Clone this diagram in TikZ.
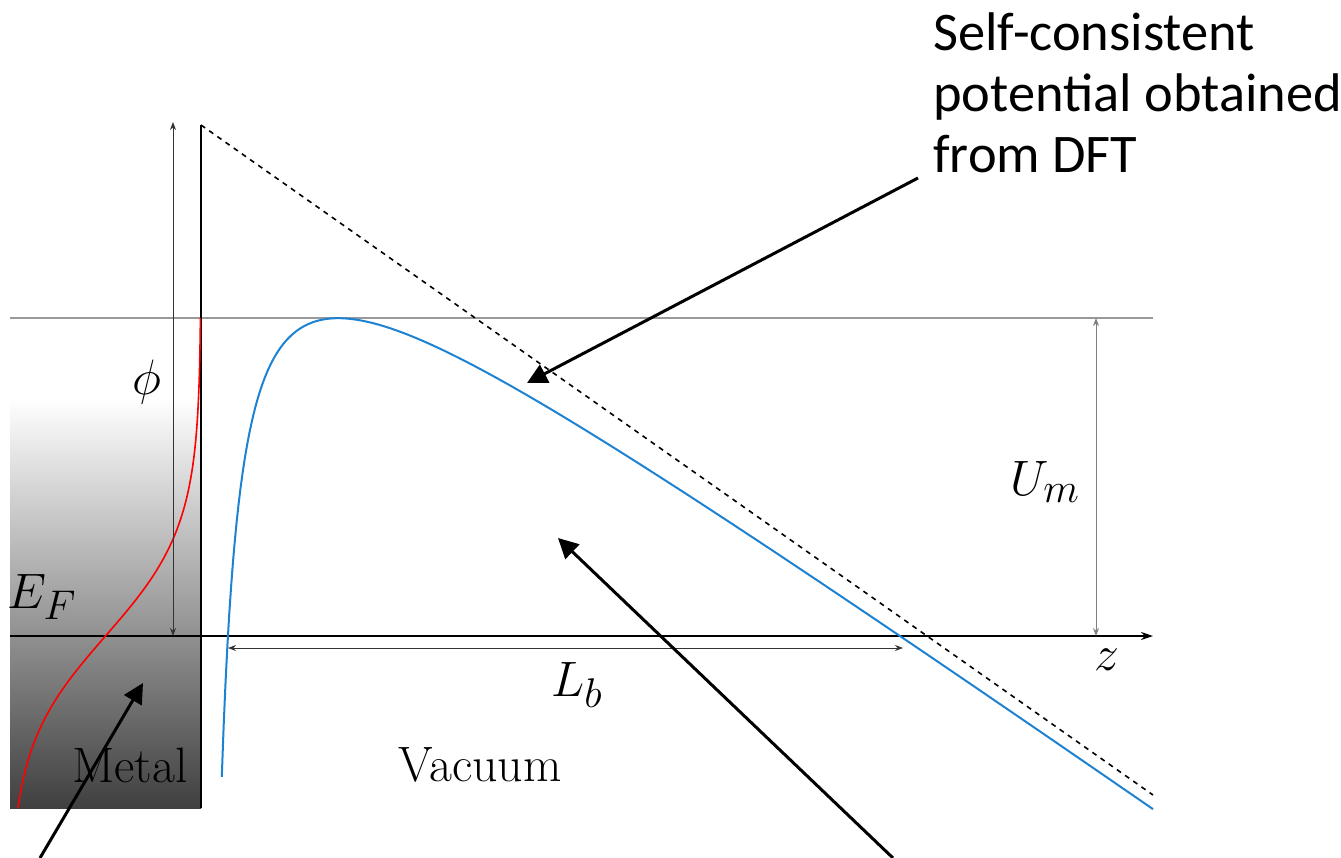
\documentclass[tikz,border=0pt]{standalone}
\usepackage{amsmath,amssymb}
\usepackage{fontspec}
\newfontfamily\calibri{Carlito}
\usetikzlibrary{arrows.meta,calc,positioning}
\definecolor{potblue}{RGB}{30,130,210}
\tikzset{
  lbl/.style={font=\Huge,inner sep=0pt},
  dimarrow/.style={{Stealth[length=4pt,width=3pt]}-{Stealth[length=4pt,width=3pt]},line width=0.5pt},
  callout/.style={-{Triangle[length=10pt,width=10pt]},line width=1.5pt},
}

\begin{document}
\begin{tikzpicture}[x=0.5pt,y=-0.5pt]
  \useasboundingbox (0,0) rectangle (1341,858);
  \coordinate (surftop) at (201,125);
  \coordinate (surfbot) at (201,808);
  \coordinate (zstart) at (10,636);
  \coordinate (zend) at (1153,636);
  \coordinate (vacstart) at (10,318);
  \coordinate (vacend) at (1153,318);
  \coordinate (fieldend) at (1153,795);
  \shade[top color=white,middle color=black!25,bottom color=black!75] (10,398) rectangle (surfbot);
  \draw[gray!80,line width=0.6pt] (vacstart)--(vacend);
  \draw[line width=0.9pt,-{Stealth[length=6pt,width=4pt]}] (zstart)--(zend);
  \draw[line width=0.8pt] (surfbot)--(surftop);
  \draw[line width=0.8pt,dash pattern=on 2.5pt off 2.5pt] (surftop)--(fieldend);
  \draw[red,line width=0.8pt] plot[domain=318:808,samples=160,smooth,variable=\y] ({10+191/(1+exp(-(636-\y)/55))},{\y});
  \draw[potblue,line width=1pt] plot[domain=221.8:1153,samples=500,variable=\x] ({\x},{125+0.704*(\x-201)+13254/(\x-201)});
  \coordinate (phitop) at (173,122);
  \coordinate (phibot) at (173,636);
  \coordinate (umtop) at (1096,318);
  \coordinate (umbot) at (1096,636);
  \coordinate (lbleft) at (228,648);
  \coordinate (lbright) at (903,648);
  \draw[dimarrow,black!80] (phitop)--(phibot);
  \draw[dimarrow,gray] (umtop)--(umbot);
  \draw[dimarrow,black!80] (lbleft)--(lbright);
  \node[lbl] (phi) at (147,382) {$\phi$};
  \node[lbl] (ef) at (42,597) {$E_F$};
  \node[lbl] (um) at (1045,482) {$U_m$};
  \node[lbl] (zlab) at (1107,660) {$z$};
  \node[lbl] (lb) at (577,685) {$L_b$};
  \node[lbl] (metal) at (130,765) {Metal};
  \node[lbl] (vacuum) at (480,765) {Vacuum};
  \node[font=\calibri\fontsize{27.2}{30.5}\selectfont,align=left,anchor=north west,inner sep=0pt] (dft) at (933,12) {Self-consistent\\potential obtained\\from DFT};
  \coordinate (dfttail) at (918,178);
  \coordinate (dfthead) at (527,383);
  \coordinate (metaltail) at (40,858);
  \coordinate (metalhead) at (143,683);
  \coordinate (vactail) at (893,858);
  \coordinate (vachead) at (558,538);
  \draw[callout] (dfttail)--(dfthead);
  \draw[callout] (metaltail)--(metalhead);
  \draw[callout] (vactail)--(vachead);
\end{tikzpicture}
\end{document}
